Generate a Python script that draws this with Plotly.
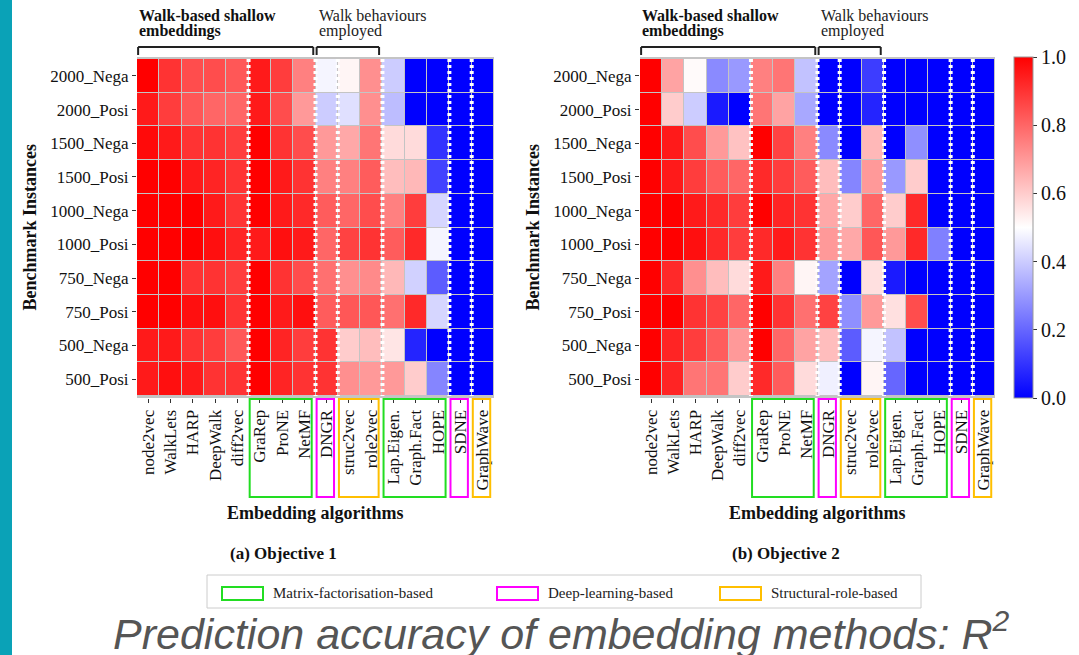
import plotly.graph_objects as go

algorithms = ["node2vec", "WalkLets", "HARP", "DeepWalk", "diff2vec", "GraRep", "ProNE", "NetMF",
              "DNGR", "struc2vec", "role2vec", "Lap.Eigen.", "Graph.Fact", "HOPE", "SDNE", "GraphWave"]
instances = ["2000_Nega", "2000_Posi", "1500_Nega", "1500_Posi", "1000_Nega",
             "1000_Posi", "750_Nega", "750_Posi", "500_Nega", "500_Posi"]

objective1 = [
    [1.00, 0.90, 0.85, 0.85, 0.83, 0.95, 0.88, 0.75, 0.48, 0.52, 0.72, 0.40, 0.00, 0.00, 0.00, 0.00],
    [0.95, 0.88, 0.83, 0.80, 0.80, 0.95, 0.85, 0.70, 0.40, 0.44, 0.72, 0.37, 0.00, 0.00, 0.00, 0.00],
    [0.98, 0.95, 0.90, 0.90, 0.88, 1.00, 0.90, 0.85, 0.70, 0.67, 0.77, 0.57, 0.57, 0.10, 0.00, 0.00],
    [1.00, 1.00, 0.95, 0.93, 0.90, 1.00, 0.95, 0.90, 0.75, 0.75, 0.82, 0.63, 0.64, 0.13, 0.00, 0.00],
    [1.00, 1.00, 1.00, 0.95, 0.90, 1.00, 0.95, 0.92, 0.82, 0.80, 0.85, 0.75, 0.88, 0.42, 0.00, 0.00],
    [1.00, 1.00, 1.00, 0.97, 0.93, 0.95, 0.97, 0.95, 0.80, 0.87, 0.90, 0.82, 0.92, 0.48, 0.00, 0.00],
    [1.00, 1.00, 0.90, 0.90, 0.88, 1.00, 0.90, 0.85, 0.78, 0.72, 0.73, 0.64, 0.41, 0.18, 0.00, 0.00],
    [1.00, 1.00, 0.97, 0.97, 0.90, 1.00, 0.95, 0.97, 0.82, 0.83, 0.83, 0.78, 0.92, 0.42, 0.00, 0.00],
    [0.95, 0.95, 0.90, 0.88, 0.83, 1.00, 0.93, 0.88, 0.90, 0.60, 0.63, 0.55, 0.07, 0.00, 0.00, 0.00],
    [0.95, 0.97, 0.95, 0.90, 0.90, 1.00, 0.93, 0.90, 0.90, 0.72, 0.70, 0.70, 0.60, 0.26, 0.00, 0.00],
]

objective2 = [
    [1.00, 0.68, 0.51, 0.27, 0.30, 0.75, 0.77, 0.38, 0.00, 0.00, 0.12, 0.00, 0.00, 0.00, 0.00, 0.00],
    [1.00, 0.60, 0.40, 0.05, 0.00, 0.77, 0.68, 0.33, 0.00, 0.00, 0.07, 0.00, 0.00, 0.00, 0.00, 0.00],
    [1.00, 0.95, 0.85, 0.70, 0.62, 1.00, 0.87, 0.75, 0.27, 0.00, 0.64, 0.00, 0.28, 0.00, 0.00, 0.00],
    [1.00, 0.95, 0.88, 0.82, 0.80, 0.92, 0.88, 0.82, 0.63, 0.26, 0.70, 0.30, 0.60, 0.00, 0.00, 0.00],
    [1.00, 1.00, 0.95, 0.92, 0.88, 1.00, 0.93, 0.90, 0.67, 0.60, 0.80, 0.60, 0.92, 0.00, 0.00, 0.00],
    [1.00, 1.00, 0.97, 0.92, 0.88, 0.92, 0.95, 0.90, 0.70, 0.67, 0.83, 0.70, 0.92, 0.25, 0.00, 0.00],
    [1.00, 0.92, 0.72, 0.63, 0.57, 0.95, 0.75, 0.52, 0.32, 0.00, 0.56, 0.05, 0.00, 0.00, 0.00, 0.00],
    [1.00, 1.00, 0.90, 0.87, 0.80, 1.00, 0.90, 0.78, 0.87, 0.28, 0.70, 0.56, 0.85, 0.00, 0.00, 0.00],
    [1.00, 0.93, 0.88, 0.82, 0.70, 1.00, 0.80, 0.68, 0.63, 0.18, 0.48, 0.38, 0.00, 0.00, 0.00, 0.00],
    [1.00, 0.93, 0.77, 0.77, 0.60, 0.92, 0.82, 0.57, 0.47, 0.00, 0.52, 0.20, 0.00, 0.00, 0.00, 0.00],
]

colorbar_ticks = [0.0, 0.2, 0.4, 0.6, 0.8, 1.0]
panel_titles = ["(a) Objective 1", "(b) Objective 2"]
legend_labels = ["Matrix-factorisation-based", "Deep-learning-based", "Structural-role-based"]
# category groups boxed under the x labels: (first, last, group index)
boxed_groups = [("GraRep", "NetMF", 0), ("DNGR", "DNGR", 1), ("struc2vec", "role2vec", 2),
                ("Lap.Eigen.", "HOPE", 0), ("SDNE", "SDNE", 1), ("GraphWave", "GraphWave", 2)]
separators_after = ["diff2vec", "NetMF", "DNGR", "role2vec", "HOPE", "SDNE"]
main_title = "Prediction accuracy of embedding methods: R<sup>2</sup>"

W, H = 1079, 655
def px(x): return x / W
def py(y): return 1 - y / H

SERIF = "Liberation Serif"
group_colors = ["#22dd22", "#ff00ff", "#ffbf00"]
bwr = [[0, "rgb(0,0,255)"], [0.5, "rgb(255,255,255)"], [1, "rgb(255,0,0)"]]

panels = [
    dict(z=objective1, xa="x", ya="y", xdom=(137, 494)),
    dict(z=objective2, xa="x2", ya="y2", xdom=(640, 995)),
]
ytop, ybot = 57, 398

fig = go.Figure()
for i, p in enumerate(panels):
    fig.add_trace(go.Heatmap(
        z=p["z"], x=algorithms, y=instances, xaxis=p["xa"], yaxis=p["ya"],
        colorscale=bwr, zmin=0, zmax=1, xgap=1, ygap=1, showscale=(i == 1),
        colorbar=dict(x=px(1014), xanchor="left", y=py(ybot), yanchor="bottom",
                      len=(ybot - ytop) / H, lenmode="fraction", thickness=19,
                      xpad=0, ypad=0,
                      outlinewidth=1, outlinecolor="#999",
                      tickvals=colorbar_ticks, ticktext=[f"{t:.1f}" for t in colorbar_ticks],
                      ticks="outside", ticklen=4, tickcolor="#333",
                      tickfont=dict(family=SERIF, size=20, color="#111")),
        hovertemplate="%{y} / %{x}: %{z}<extra></extra>",
    ))

axis_common = dict(showgrid=False, zeroline=False, ticks="outside", ticklen=4, tickcolor="#333",
                   tickfont=dict(family=SERIF, size=17, color="#111"))
layout_axes = {}
for i, p in enumerate(panels):
    sx = "" if i == 0 else "2"
    layout_axes["xaxis" + sx] = dict(domain=[px(p["xdom"][0]), px(p["xdom"][1])], anchor="y" + sx,
                                     tickangle=-90, **axis_common)
    layout_axes["yaxis" + sx] = dict(domain=[py(ybot), py(ytop)], anchor="x" + sx,
                                     autorange="reversed", **axis_common)

shapes = []
annotations = []

# teal sidebar
shapes.append(dict(type="rect", xref="paper", yref="paper", x0=0, x1=px(12), y0=0, y1=1,
                   fillcolor="#0aa2b7", line=dict(width=0), layer="below"))

idx = {a: k for k, a in enumerate(algorithms)}
for i, p in enumerate(panels):
    xa = p["xa"]
    # dotted separators
    for a in separators_after:
        xb = idx[a] + 0.5
        shapes.append(dict(type="line", xref=xa, yref=p["ya"], x0=xb, x1=xb, y0=-0.5, y1=len(instances) - 0.5,
                           line=dict(color="white", width=4, dash="3px,3px")))
    # group boxes below labels
    for first, last, g in boxed_groups:
        shapes.append(dict(type="rect", xref=xa, yref="paper", x0=idx[first] - 0.45, x1=idx[last] + 0.33,
                           y0=py(497), y1=py(399), line=dict(color=group_colors[g], width=2)))
    # brackets on top
    for x0, x1 in [(-0.45, 7.4), (7.55, 10.35)]:
        for seg in [(x0, x0, 55, 47), (x0, x1, 47, 47), (x1, x1, 47, 55)]:
            shapes.append(dict(type="line", xref=xa, yref="paper", x0=seg[0], x1=seg[1],
                               y0=py(seg[2]), y1=py(seg[3]), line=dict(color="#222", width=2)))
    annotations += [
        dict(text="<b>Walk-based shallow</b>", xref=xa, yref="paper", x=-0.5, y=py(15), xanchor="left",
             yanchor="middle", showarrow=False, font=dict(family=SERIF, size=16, color="#111")),
        dict(text="<b>embeddings</b>", xref=xa, yref="paper", x=-0.5, y=py(31), xanchor="left",
             yanchor="middle", showarrow=False, font=dict(family=SERIF, size=16, color="#111")),
        dict(text="Walk behaviours", xref=xa, yref="paper", x=7.55, y=py(15), xanchor="left",
             yanchor="middle", showarrow=False, font=dict(family=SERIF, size=16, color="#222")),
        dict(text="employed", xref=xa, yref="paper", x=7.55, y=py(31), xanchor="left",
             yanchor="middle", showarrow=False, font=dict(family=SERIF, size=16, color="#222")),
        dict(text="<b>Embedding algorithms</b>", xref="paper", yref="paper",
             x=px((p["xdom"][0] + p["xdom"][1]) / 2), y=py(513), xanchor="center", yanchor="middle",
             showarrow=False, font=dict(family=SERIF, size=18, color="#111")),
        dict(text="<b>Benchmark Instances</b>", xref="paper", yref="paper",
             x=px(p["xdom"][0] - 107), y=py((ytop + ybot) / 2), xanchor="center", yanchor="middle",
             textangle=-90, showarrow=False, font=dict(family=SERIF, size=18, color="#111")),
        dict(text="<b>" + panel_titles[i] + "</b>", xref="paper", yref="paper",
             x=px((p["xdom"][0] + p["xdom"][1]) / 2 - 32), y=py(553), xanchor="center", yanchor="middle",
             showarrow=False, font=dict(family=SERIF, size=17, color="#111")),
    ]

# legend box
shapes.append(dict(type="rect", xref="paper", yref="paper", x0=px(207), x1=px(921), y0=py(608), y1=py(575),
                   line=dict(color="#cccccc", width=1)))
leg_x = [222, 497, 720]
for k, lab in enumerate(legend_labels):
    shapes.append(dict(type="rect", xref="paper", yref="paper", x0=px(leg_x[k]), x1=px(leg_x[k] + 41),
                       y0=py(600), y1=py(587), line=dict(color=group_colors[k], width=2)))
    annotations.append(dict(text=lab, xref="paper", yref="paper", x=px(leg_x[k] + 49), y=py(593),
                            xanchor="left", yanchor="middle", showarrow=False,
                            font=dict(family=SERIF, size=15, color="#222")))

annotations.append(dict(text="<i>" + main_title + "</i>", xref="paper", yref="paper", x=px(561), y=py(602),
                        xanchor="center", yanchor="top", showarrow=False,
                        font=dict(family="Liberation Sans", size=43, color="#555555")))

fig.update_layout(width=W, height=H, margin=dict(l=0, r=0, t=0, b=0, autoexpand=False),
                  paper_bgcolor="white", plot_bgcolor="#c4c4c4",
                  shapes=shapes, annotations=annotations, showlegend=False, **layout_axes)

fig.write_html("out.html", config={"displayModeBar": False},
               post_script="document.body.style.margin='0';document.body.style.overflow='hidden';")
